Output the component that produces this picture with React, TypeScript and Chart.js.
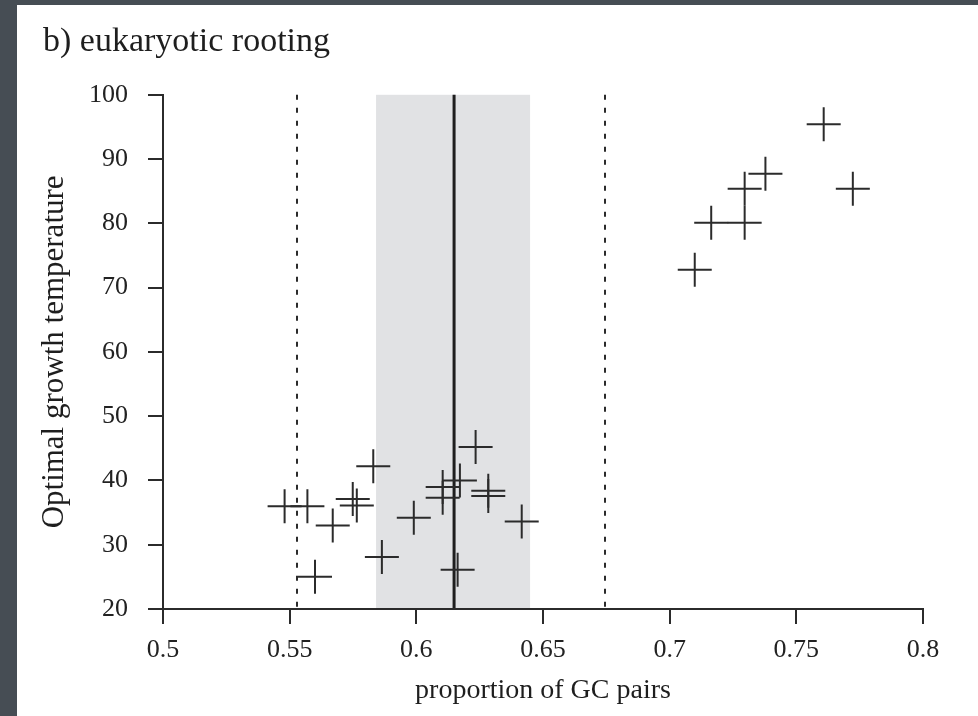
import React, { useEffect, useRef } from "react";
import { Chart, registerables } from "chart.js";

Chart.register(...registerables);

// proportion of GC pairs (x) and optimal growth temperature (y)
const gcProportion = [
  0.548, 0.557, 0.567, 0.560, 0.5749, 0.5765, 0.583, 0.5864, 0.599, 0.6104,
  0.6104, 0.6172, 0.6234, 0.6284, 0.6284, 0.6416, 0.6163, 0.7099, 0.7164,
  0.7296, 0.7296, 0.7378, 0.7608, 0.7723,
];
const growthTemperature = [
  36.0, 36.0, 33.0, 25.0, 37.1, 36.1, 42.2, 28.1, 34.2, 39.0, 37.3, 40.0, 45.2,
  38.4, 37.6, 33.6, 26.1, 72.8, 80.1, 80.1, 85.4, 87.7, 95.4, 85.4,
];

const xTickValues = [0.5, 0.55, 0.6, 0.65, 0.7, 0.75, 0.8];
const yTickValues = [20, 30, 40, 50, 60, 70, 80, 90, 100];

const dottedLimits = [0.5528, 0.6745];
const meanGC = [0.6149];
const bandRange = [0.5841, 0.6449];

const titleText = "b) eukaryotic rooting";
const xTitle = "proportion of GC pairs";
const yTitle = "Optimal growth temperature";

const INK = "#2b2b2b";
const FONT = "'Liberation Serif', 'Times New Roman', serif";

const refLinesPlugin = {
  id: "refLines",
  beforeDraw(chart: any) {
    const { ctx, chartArea, scales } = chart;
    const x = scales.x;
    const top = chartArea.top;
    const bottom = chartArea.bottom;
    ctx.save();
    // shaded band
    const b0 = x.getPixelForValue(bandRange[0]);
    const b1 = x.getPixelForValue(bandRange[1]);
    ctx.fillStyle = "#e1e2e4";
    ctx.fillRect(b0, top, b1 - b0, bottom - top);
    // dotted lines
    ctx.strokeStyle = INK;
    ctx.lineWidth = 2;
    ctx.setLineDash([5, 8]);
    for (const v of dottedLimits) {
      const px = Math.round(x.getPixelForValue(v));
      ctx.beginPath();
      ctx.moveTo(px, top);
      ctx.lineTo(px, bottom - 2);
      ctx.stroke();
    }
    // solid mean line
    ctx.setLineDash([]);
    ctx.lineWidth = 3;
    ctx.strokeStyle = "#1e1e1e";
    for (const v of meanGC) {
      const px = x.getPixelForValue(v);
      ctx.beginPath();
      ctx.moveTo(px, top);
      ctx.lineTo(px, bottom);
      ctx.stroke();
    }
    ctx.restore();
  },
};

export default function App() {
  const canvasRef = useRef<HTMLCanvasElement | null>(null);

  useEffect(() => {
    const canvas = canvasRef.current;
    if (!canvas) return;
    const chart = new Chart(canvas, {
      type: "scatter",
      data: {
        datasets: [
          {
            data: gcProportion.map((g, i) => ({ x: g, y: growthTemperature[i] })),
            pointStyle: "cross",
            pointRadius: 17,
            pointHoverRadius: 17,
            borderWidth: 2,
            borderColor: INK,
            backgroundColor: INK,
            clip: false as any,
          },
        ],
      },
      plugins: [refLinesPlugin],
      options: {
        animation: false,
        responsive: false,
        devicePixelRatio: 1,
        layout: { padding: { left: 26, right: 55, top: 0, bottom: 0 } },
        plugins: {
          legend: { display: false },
          tooltip: { enabled: false },
          title: {
            display: true,
            text: titleText,
            align: "start",
            color: "#1e1e1e",
            font: { family: FONT, size: 34, weight: "normal", lineHeight: 1.2 },
            padding: { top: 17, bottom: 32 },
          },
        },
        scales: {
          x: {
            type: "linear",
            min: 0.5,
            max: 0.8,
            afterBuildTicks: (scale: any) => {
              scale.ticks = xTickValues.map((v) => ({ value: v }));
            },
            afterFit: (scale: any) => {
              scale.height = 107;
            },
            grid: {
              display: true,
              drawOnChartArea: false,
              drawTicks: true,
              tickLength: 15,
              color: INK,
              lineWidth: 2,
            },
            border: { display: true, color: INK, width: 2 },
            ticks: {
              padding: 11,
              color: "#222",
              font: { family: FONT, size: 26 },
              callback: (v: any) => String(Number(Number(v).toFixed(2))),
            },
            title: {
              display: true,
              text: xTitle,
              color: "#1e1e1e",
              font: { family: FONT, size: 28, lineHeight: 1.2 },
              padding: { top: 0, bottom: 9 },
            },
          },
          y: {
            type: "linear",
            min: 20,
            max: 100,
            afterBuildTicks: (scale: any) => {
              scale.ticks = yTickValues.map((v) => ({ value: v }));
            },
            afterFit: (scale: any) => {
              scale.width = 120;
            },
            grid: {
              display: true,
              drawOnChartArea: false,
              drawTicks: true,
              tickLength: 15,
              color: INK,
              lineWidth: 2,
            },
            border: { display: true, color: INK, width: 2 },
            ticks: {
              padding: 20,
              color: "#222",
              font: { family: FONT, size: 26 },
            },
            title: {
              display: true,
              text: yTitle,
              color: "#1e1e1e",
              font: { family: FONT, size: 31, lineHeight: 1.2 },
              padding: { top: -7, bottom: 0 },
            },
          },
        },
      },
    });
    return () => chart.destroy();
  }, []);

  return (
    <div
      style={{
        position: "fixed",
        left: 0,
        top: 0,
        width: 978,
        height: 716,
        background: "#464d54",
        overflow: "hidden",
      }}
    >
      <canvas
        ref={canvasRef}
        width={961}
        height={711}
        style={{
          position: "absolute",
          left: 17,
          top: 5,
          width: 961,
          height: 711,
          background: "#ffffff",
        }}
      />
    </div>
  );
}
